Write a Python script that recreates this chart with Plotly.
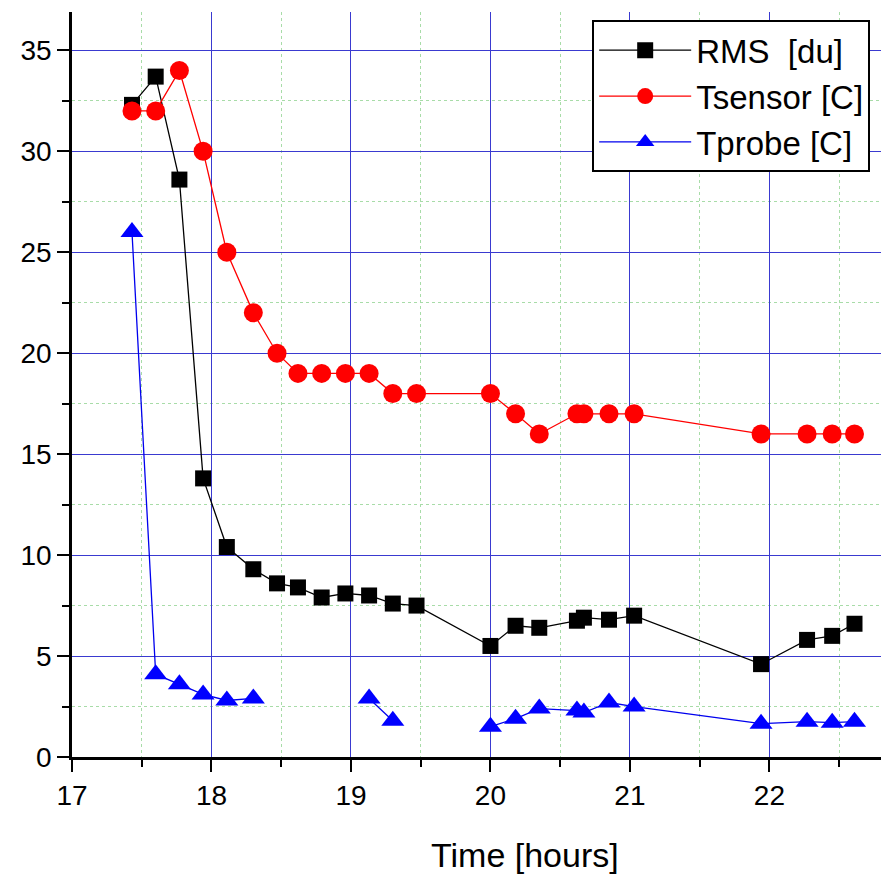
import plotly.graph_objects as go

time_h = [17.43, 17.60, 17.77, 17.94, 18.11, 18.30, 18.47, 18.62, 18.79, 18.96, 19.13, 19.30, 19.47,
          20.00, 20.18, 20.35, 20.62, 20.67, 20.85, 21.03, 21.94, 22.27, 22.45, 22.61]
rms_du = [32.3, 33.7, 28.6, 13.8, 10.4, 9.3, 8.6, 8.4, 7.9, 8.1, 8.0, 7.6, 7.5,
          5.5, 6.5, 6.4, 6.75, 6.9, 6.8, 7.0, 4.6, 5.8, 6.0, 6.6]
tsensor_c = [32, 32, 34, 30, 25, 22, 20, 19, 19, 19, 19, 18, 18,
             18, 17, 16, 17, 17, 17, 17, 16, 16, 16, 16]
tprobe_c = [26.0, 4.1, 3.6, 3.1, 2.8, 2.9, None, None, None, None, 2.9, 1.8, None,
            1.5, 1.9, 2.4, 2.3, 2.2, 2.7, 2.5, 1.65, 1.75, 1.7, 1.75]

x_ticks = [17, 18, 19, 20, 21, 22]
y_ticks = [0, 5, 10, 15, 20, 25, 30, 35]

fig = go.Figure()
fig.add_trace(go.Scatter(x=time_h, y=rms_du, name="RMS\u00a0\u00a0[du]", mode="lines+markers",
                         line=dict(color="black", width=1.3),
                         marker=dict(symbol="square", size=16, color="black")))
fig.add_trace(go.Scatter(x=time_h, y=tsensor_c, name="Tsensor [C]", mode="lines+markers",
                         line=dict(color="red", width=1.3),
                         marker=dict(symbol="circle", size=19, color="red")))
fig.add_trace(go.Scatter(x=time_h, y=tprobe_c, name="Tprobe [C]", mode="lines+markers",
                         connectgaps=False,
                         line=dict(color="#0000ee", width=1.3),
                         marker=dict(symbol="triangle-up", size=20, color="#0000ff")))

font = "Liberation Sans, Arial, sans-serif"
fig.update_layout(
    width=883, height=875,
    margin=dict(l=72, r=2, t=12, b=118),
    plot_bgcolor="white", paper_bgcolor="white",
    font=dict(family=font, color="black", size=28),
    showlegend=True,
    legend=dict(x=0.643, y=0.989, xanchor="left", yanchor="top",
                bgcolor="white", bordercolor="black", borderwidth=2,
                itemwidth=92,
                font=dict(size=33, family=font), tracegroupgap=0),
    xaxis=dict(range=[17, 22.8], tickvals=x_ticks, showline=True, linecolor="black", linewidth=2.5,
               ticks="outside", ticklen=12, tickwidth=2, tickcolor="black",
               showgrid=True, gridcolor="#3a3ad0", gridwidth=1.2, zeroline=False,
               tickfont=dict(size=28),
               minor=dict(dtick=0.5, tick0=17, ticks="outside", ticklen=7, tickwidth=2, tickcolor="black",
                          showgrid=True, gridcolor="#a8dca8", griddash="dot", gridwidth=1)),
    yaxis=dict(range=[0, 36.9], tickvals=y_ticks, showline=True, linecolor="black", linewidth=2.5,
               ticks="outside", ticklen=12, tickwidth=2, tickcolor="black",
               showgrid=True, gridcolor="#3a3ad0", gridwidth=1.2, zeroline=False,
               tickfont=dict(size=28),
               minor=dict(dtick=2.5, tick0=0, ticks="outside", ticklen=7, tickwidth=2, tickcolor="black",
                          showgrid=True, gridcolor="#a8dca8", griddash="dot", gridwidth=1)),
    annotations=[dict(text="Time [hours]", xref="paper", yref="paper", x=0.56, y=-0.1315,
                      xanchor="center", yanchor="middle", showarrow=False,
                      font=dict(size=34, family=font))],
)

fig.write_html("out.html")
